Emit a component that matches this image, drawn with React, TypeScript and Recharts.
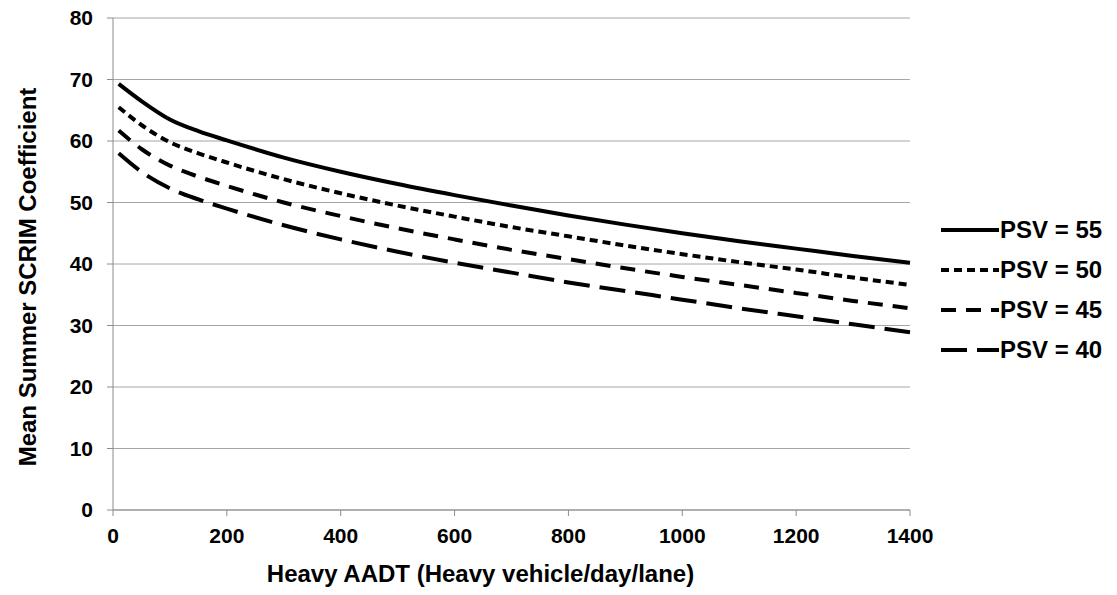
import { LineChart, Line, XAxis, YAxis, CartesianGrid, Label } from "recharts";

// ---------------------------------------------------------------------------
// Data
// ---------------------------------------------------------------------------

const AADT = [10, 50, 100, 150, 200, 300, 400, 500, 600, 700, 800, 900, 1000, 1100, 1200, 1300, 1400];

const PSV55 = [69.3, 66.5, 63.5, 61.6, 60.1, 57.3, 55.0, 53.0, 51.2, 49.5, 47.9, 46.4, 45.0, 43.7, 42.5, 41.3, 40.2];
const PSV50 = [65.5, 62.6, 59.8, 58.0, 56.5, 53.8, 51.5, 49.5, 47.7, 46.0, 44.5, 43.0, 41.6, 40.3, 39.1, 37.8, 36.6];
const PSV45 = [61.7, 58.7, 56.0, 54.2, 52.7, 50.0, 47.8, 45.8, 44.0, 42.3, 40.8, 39.3, 37.9, 36.6, 35.3, 34.0, 32.8];
const PSV40 = [58.0, 55.0, 52.3, 50.5, 49.0, 46.3, 44.0, 42.0, 40.2, 38.6, 37.0, 35.6, 34.2, 32.8, 31.5, 30.2, 28.9];

const X_TICKS = [0, 200, 400, 600, 800, 1000, 1200, 1400];
const Y_TICKS = [0, 10, 20, 30, 40, 50, 60, 70, 80];

const SERIES = [
  { key: "psv55", name: "PSV = 55", dash: undefined as string | undefined },
  { key: "psv50", name: "PSV = 50", dash: "8 5" },
  { key: "psv45", name: "PSV = 45", dash: "15 10" },
  { key: "psv40", name: "PSV = 40", dash: "26 10" },
];

const data = AADT.map((x, i) => ({
  aadt: x,
  psv55: PSV55[i],
  psv50: PSV50[i],
  psv45: PSV45[i],
  psv40: PSV40[i],
}));

// ---------------------------------------------------------------------------
// Styles
// ---------------------------------------------------------------------------

const FONT = "'Liberation Sans', Arial, sans-serif";
const TICK_STYLE = { fontSize: 21, fontWeight: 700, fill: "#000", fontFamily: FONT };
const TITLE_STYLE = { fontSize: 24, fontWeight: 700, fill: "#000", fontFamily: FONT };
const AXIS_COLOR = "#8c8c8c";
const GRID_COLOR = "#a6a6a6";

function LegendBox() {
  return (
    <div
      style={{
        position: "absolute",
        left: 941,
        top: 210,
        fontFamily: FONT,
        fontWeight: 700,
        fontSize: 24,
        color: "#000",
      }}
    >
      {SERIES.map((s) => (
        <div key={s.key} style={{ display: "flex", alignItems: "center", height: 40 }}>
          <svg width={58} height={10} style={{ display: "block" }}>
            <line x1={0} y1={5} x2={58} y2={5} stroke="#000" strokeWidth={4} strokeDasharray={s.dash} />
          </svg>
          <span style={{ marginLeft: 1 }}>{s.name}</span>
        </div>
      ))}
    </div>
  );
}

export default function App() {
  return (
    <div style={{ position: "absolute", left: 0, top: 0, width: 1117, height: 595, background: "#fff" }}>
      <LineChart width={1117} height={595} data={data} margin={{ top: 18, right: 207, bottom: 0, left: 0 }}>
        <CartesianGrid stroke={GRID_COLOR} vertical={false} />
        <XAxis
          dataKey="aadt"
          type="number"
          domain={[0, 1400]}
          ticks={X_TICKS}
          height={85}
          tick={TICK_STYLE}
          tickSize={6}
          tickMargin={12}
          axisLine={{ stroke: AXIS_COLOR }}
          tickLine={{ stroke: AXIS_COLOR }}
        >
          <Label
            content={({ viewBox }: any) => (
              <text
                x={viewBox.x + viewBox.width / 2 - 31}
                y={viewBox.y + 72}
                textAnchor="middle"
                style={TITLE_STYLE}
              >
                Heavy AADT (Heavy vehicle/day/lane)
              </text>
            )}
          />
        </XAxis>
        <YAxis
          type="number"
          domain={[0, 80]}
          ticks={Y_TICKS}
          width={113}
          tick={TICK_STYLE}
          tickSize={6}
          tickMargin={14}
          axisLine={{ stroke: AXIS_COLOR }}
          tickLine={{ stroke: AXIS_COLOR }}
        >
          <Label
            content={({ viewBox }: any) => {
              const cx = 36;
              const cy = viewBox.y + viewBox.height / 2 + 13;
              return (
                <text x={cx} y={cy} textAnchor="middle" transform={`rotate(-90, ${cx}, ${cy})`} style={TITLE_STYLE}>
                  Mean Summer SCRIM Coefficient
                </text>
              );
            }}
          />
        </YAxis>
        {SERIES.map((s) => (
          <Line
            key={s.key}
            dataKey={s.key}
            name={s.name}
            type="monotone"
            stroke="#000"
            strokeWidth={4}
            strokeDasharray={s.dash}
            dot={false}
            isAnimationActive={false}
          />
        ))}
      </LineChart>
      <LegendBox />
    </div>
  );
}
